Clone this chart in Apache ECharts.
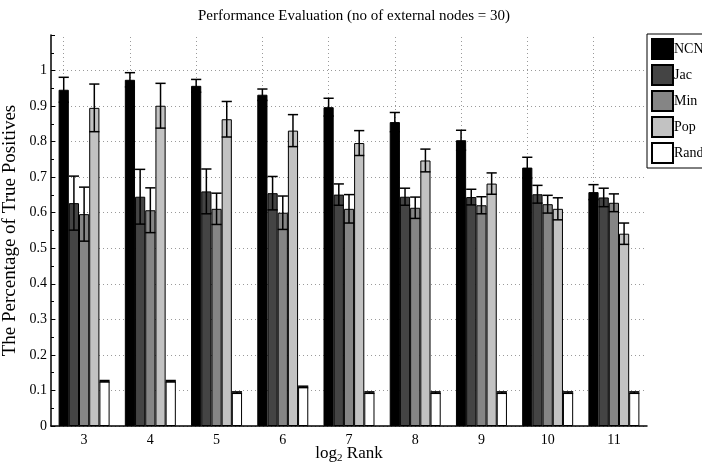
<!DOCTYPE html>
<html>
<head>
<meta charset="utf-8">
<script src="https://cdn.jsdelivr.net/npm/echarts@6/dist/echarts.min.js"></script>
<style>
  html, body { margin: 0; padding: 0; background: #fff; }
  #chart { width: 702px; height: 466px; }
</style>
</head>
<body>
<div id="chart"></div>
<script>
  // log2 rank categories
  var categories = ['3', '4', '5', '6', '7', '8', '9', '10', '11'];
  var seriesNames = ['NCN', 'Jac', 'Min', 'Pop', 'Rand'];

  var ncn = [0.946, 0.974, 0.957, 0.932, 0.897, 0.855, 0.804, 0.727, 0.658];
  var jac = [0.627, 0.645, 0.660, 0.655, 0.651, 0.645, 0.644, 0.652, 0.643];
  var minV = [0.596, 0.607, 0.611, 0.600, 0.611, 0.614, 0.621, 0.624, 0.628];
  var pop = [0.895, 0.901, 0.863, 0.831, 0.796, 0.747, 0.682, 0.611, 0.541];
  var rand = [0.126, 0.126, 0.094, 0.110, 0.094, 0.094, 0.094, 0.094, 0.094];

  var ncnErr = [0.035, 0.020, 0.018, 0.016, 0.025, 0.027, 0.028, 0.029, 0.021];
  var jacErr = [0.076, 0.077, 0.063, 0.047, 0.030, 0.024, 0.022, 0.025, 0.026];
  var minErr = [0.076, 0.063, 0.044, 0.047, 0.040, 0.030, 0.024, 0.025, 0.025];
  var popErr = [0.067, 0.063, 0.050, 0.045, 0.035, 0.032, 0.030, 0.031, 0.030];
  var randErr = [0.002, 0.002, 0.002, 0.002, 0.002, 0.002, 0.002, 0.002, 0.002];

  var colors = ['#000000', '#444444', '#858585', '#c2c2c2', '#ffffff'];
  var values = [ncn, jac, minV, pop, rand];
  var errors = [ncnErr, jacErr, minErr, popErr, randErr];

  var gapRatio = 0.23;
  var font = '"Liberation Serif", "DejaVu Serif", serif';

  var myChart = echarts.init(document.getElementById('chart'));

  var series = [];
  values.forEach(function (vals, i) {
    var s = {
      name: seriesNames[i],
      type: 'bar',
      z: 3,
      data: vals,
      barGap: '0%',
      barCategoryGap: (gapRatio * 100) + '%',
      itemStyle: {
        color: colors[i],
        borderColor: '#000',
        borderWidth: 1
      },
      emphasis: { disabled: true }
    };
    if (i === 0) {
      // dotted vertical grid at each category, kept behind the bars
      s.markLine = {
        silent: true,
        z: 1,
        symbol: 'none',
        label: { show: false },
        lineStyle: { color: '#9a9a9a', type: [1, 3], width: 1 },
        data: categories.map(function (c) { return { xAxis: c }; })
      };
    }
    series.push(s);
  });

  // error bars, one custom series per bar series
  values.forEach(function (vals, i) {
    var errData = vals.map(function (v, k) {
      return [k, v - errors[i][k], v + errors[i][k]];
    });
    series.push({
      type: 'custom',
      name: seriesNames[i] + ' err',
      z: 10,
      silent: true,
      encode: { x: 0, y: [1, 2] },
      data: errData,
      renderItem: function (params, api) {
        var k = api.value(0);
        var band = api.size([1, 0])[0];
        var groupW = band * (1 - gapRatio);
        var barW = groupW / values.length;
        var off = -groupW / 2 + barW * (i + 0.5);
        var lo = api.coord([k, api.value(1)]);
        var hi = api.coord([k, api.value(2)]);
        var x = lo[0] + off;
        var cap = barW / 2;
        var style = { stroke: '#000', lineWidth: 1.5 };
        return {
          type: 'group',
          children: [
            { type: 'line', shape: { x1: x, y1: lo[1], x2: x, y2: hi[1] }, style: style },
            { type: 'line', shape: { x1: x - cap, y1: hi[1], x2: x + cap, y2: hi[1] }, style: style },
            { type: 'line', shape: { x1: x - cap, y1: lo[1], x2: x + cap, y2: lo[1] }, style: style }
          ]
        };
      }
    });
  });

  myChart.setOption({
    animation: false,
    backgroundColor: '#fff',
    textStyle: { fontFamily: font, color: '#000' },
    title: {
      text: 'Performance Evaluation (no of external nodes = 30)',
      left: 349,
      textAlign: 'center',
      top: 4,
      textStyle: { fontFamily: font, fontSize: 15, fontWeight: 'normal', color: '#000' }
    },
    legend: {
      data: seriesNames,
      orient: 'vertical',
      left: 647,
      top: 34,
      padding: [4, 12, 4, 4],
      itemWidth: 21,
      itemHeight: 20,
      itemGap: 4,
      icon: 'rect',
      borderColor: '#000',
      borderWidth: 1,
      textStyle: { fontFamily: font, fontSize: 14, color: '#000', padding: [0, 0, 0, -4] }
    },
    grid: {
      left: 51,
      right: 55,
      top: 35,
      bottom: 40,
      containLabel: false,
      outerBoundsMode: 'none'
    },
    xAxis: {
      type: 'category',
      data: categories,
      name: 'log{sub|2} Rank',
      nameLocation: 'middle',
      nameGap: 18,
      nameMoveOverlap: false,
      nameTextStyle: {
        fontFamily: font,
        fontSize: 17,
        color: '#000',
        rich: {
          sub: { fontFamily: font, fontSize: 11, color: '#000', verticalAlign: 'bottom', padding: [9, 0, 0, 0] }
        }
      },
      axisLine: { lineStyle: { color: '#000', width: 1.5 } },
      axisTick: { show: false },
      axisLabel: { fontFamily: font, fontSize: 14, color: '#000', margin: 7 },
      splitLine: { show: false }
    },
    yAxis: {
      type: 'value',
      min: 0,
      max: 1.1,
      interval: 0.1,
      name: 'The Percentage of True Positives',
      nameLocation: 'middle',
      nameGap: 31,
      nameMoveOverlap: false,
      nameTextStyle: { fontFamily: font, fontSize: 19, color: '#000' },
      axisLine: { show: true, lineStyle: { color: '#000', width: 1.5 } },
      axisTick: { show: true, inside: true, length: 4, lineStyle: { color: '#000' } },
      minorTick: { show: true, splitNumber: 2, length: 3, lineStyle: { color: '#000' } },
      axisLabel: {
        fontFamily: font,
        fontSize: 14,
        color: '#000',
        margin: 4,
        showMaxLabel: false,
        formatter: function (v) { return +v.toFixed(1) + ''; }
      },
      splitLine: {
        show: true,
        showMaxLine: false,
        lineStyle: { color: '#9a9a9a', type: [1, 3], width: 1 }
      }
    },
    series: series
  });
</script>
</body>
</html>
